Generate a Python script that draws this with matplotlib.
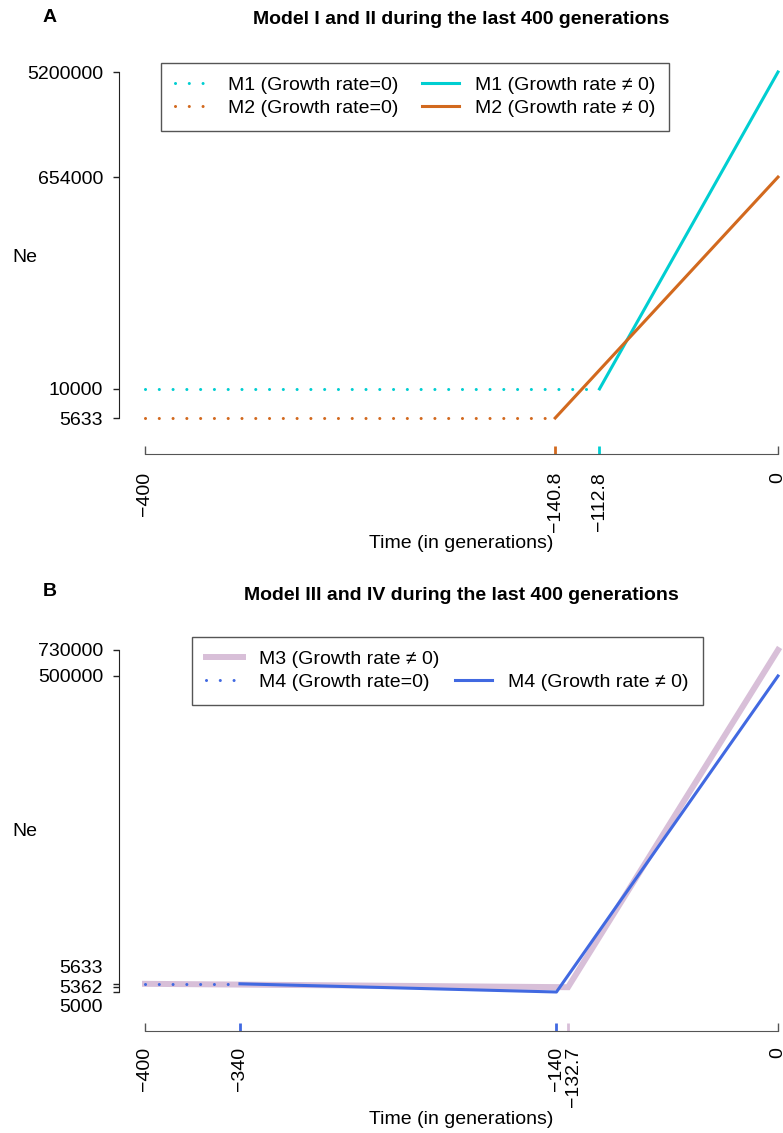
import numpy as np
import matplotlib.pyplot as plt
from matplotlib.lines import Line2D

plt.rcParams['font.family'] = ['Liberation Sans', 'DejaVu Sans']
plt.rcParams['font.size'] = 14

W, H = 783, 1133
PT = 72 / 100  # points per pixel at dpi 100


def fx(px):
    return px / W


def fy(py):
    return 1 - py / H


# -------------------------
# DATA
# -------------------------
# panel A : Model I and II
a_m1_flat_x = [-400, -112.8]
a_m1_flat_y = [10000, 10000]
a_m1_grow_x = [-112.8, 0]
a_m1_grow_y = [10000, 5200000]
a_m2_flat_x = [-400, -140.8]
a_m2_flat_y = [5633, 5633]
a_m2_grow_x = [-140.8, 0]
a_m2_grow_y = [5633, 654000]
a_yticks = [5633, 10000, 654000, 5200000]
a_xticks = [-400, -140.8, -112.8, 0]
a_xlabels = ["\u2212400", "\u2212140.8", "\u2212112.8", "0"]

# panel B : Model III and IV
b_m3_x = [-400, -132.7, 0]
b_m3_y = [5633, 5362, 730000]
b_m4_flat_x = [-400, -340]
b_m4_flat_y = [5633, 5633]
b_m4_grow_x = [-340, -140, 0]
b_m4_grow_y = [5633, 5000, 500000]
b_yticks = [5000, 5362, 5633, 500000, 730000]
b_xticks = [-400, -340, -140, -132.7, 0]
b_xlabels = ["\u2212400", "\u2212340", "\u2212140", "", "0"]

CYAN = "#00CED1"
ORANGE = "#D2691E"
THISTLE = "#D8BFD8"
BLUE = "#4169E1"
DOT = (0, (0.01, 4.5))

fig = plt.figure(figsize=(W / 100, H / 100), dpi=100)


def style_axes(ax, ylim, out_bottom):
    ax.set_yscale('log')
    ax.set_xlim(-400, 0)
    ax.set_ylim(*ylim)
    for s in ['top', 'right']:
        ax.spines[s].set_visible(False)
    ax.spines['left'].set_position(('outward', 26.5 * PT))
    ax.spines['bottom'].set_position(('outward', out_bottom * PT))
    ax.spines['left'].set_bounds(*ylim)
    ax.spines['bottom'].set_bounds(-400, 0)
    ax.spines['left'].set_color('#222222')
    ax.spines['bottom'].set_color('#555555')
    ax.patch.set_visible(False)


def legend_at(ax, handles, labels, x, y, colsp=1.2):
    leg = ax.legend(handles, labels, ncol=2, loc='upper left',
                    bbox_to_anchor=(fx(x), fy(y)), bbox_transform=fig.transFigure,
                    fontsize=14, fancybox=False, edgecolor='#555555', framealpha=1,
                    borderpad=0.7, labelspacing=0.26, handlelength=1.9,
                    handletextpad=0.85, columnspacing=colsp, borderaxespad=0)
    leg.get_frame().set_linewidth(1.0)
    return leg


# ==========================================================
# PANEL A
# ==========================================================
axA = fig.add_axes([fx(145), fy(418), (778 - 145) / W, (418 - 72) / H])
style_axes(axA, (5633, 5200000), 36)

l1, = axA.plot(a_m1_flat_x, a_m1_flat_y, color=CYAN, lw=2.2, linestyle=DOT,
               dash_capstyle='round', clip_on=False)
l2, = axA.plot(a_m2_flat_x, a_m2_flat_y, color=ORANGE, lw=2.2, linestyle=DOT,
               dash_capstyle='round', clip_on=False)
l3, = axA.plot(a_m1_grow_x, a_m1_grow_y, color=CYAN, lw=2.2, clip_on=False)
l4, = axA.plot(a_m2_grow_x, a_m2_grow_y, color=ORANGE, lw=2.2, clip_on=False)

axA.set_yticks(a_yticks, [str(v) for v in a_yticks])
axA.minorticks_off()
axA.set_xticks(a_xticks, a_xlabels, rotation=90)
axA.tick_params(axis='x', direction='in', length=8 * PT, width=1, pad=18 * PT,
                color='#555555')
axA.tick_params(axis='y', direction='out', length=6.5 * PT, width=1, pad=9 * PT,
                color='#222222')
ticks = axA.xaxis.get_major_ticks()
for i, c in [(1, ORANGE), (2, CYAN)]:
    ticks[i].tick1line.set_markeredgecolor(c)
    ticks[i].tick1line.set_markeredgewidth(2)

legend_at(axA, [l1, l2, l3, l4],
          ["M1 (Growth rate=0)", "M2 (Growth rate=0)",
           "M1 (Growth rate \u2260 0)", "M2 (Growth rate \u2260 0)"], 161, 63)

fig.text(fx(50), fy(18), "A", weight='bold', ha='center', va='center')
fig.text(fx(461), fy(19), "Model I and II during the last 400 generations",
         weight='bold', ha='center', va='center')
fig.text(fx(12), fy(257), "Ne", ha='left', va='center')
fig.text(fx(461), fy(543), "Time (in generations)", ha='center', va='center')

# ==========================================================
# PANEL B
# ==========================================================
axB = fig.add_axes([fx(145), fy(992), (778 - 145) / W, (992 - 650) / H])
style_axes(axB, (5000, 730000), 39)

m3, = axB.plot(b_m3_x, b_m3_y, color=THISTLE, lw=4.3, clip_on=False,
               solid_joinstyle='miter')
m4d, = axB.plot(b_m4_flat_x, b_m4_flat_y, color=BLUE, lw=2.2, linestyle=DOT,
                dash_capstyle='round', clip_on=False)
m4s, = axB.plot(b_m4_grow_x, b_m4_grow_y, color=BLUE, lw=2.2, clip_on=False)
blank = Line2D([], [], linestyle='none')

axB.set_yticks(b_yticks, ["", "", "", "500000", "730000"])
axB.minorticks_off()
axB.set_xticks(b_xticks, b_xlabels, rotation=90)
axB.tick_params(axis='x', direction='in', length=8 * PT, width=1, pad=16 * PT,
                color='#555555')
axB.tick_params(axis='y', direction='out', length=6.5 * PT, width=1, pad=9 * PT,
                color='#222222')
ticks = axB.xaxis.get_major_ticks()
for i, c in [(1, BLUE), (2, BLUE), (3, THISTLE)]:
    ticks[i].tick1line.set_markeredgecolor(c)
    ticks[i].tick1line.set_markeredgewidth(2)

# crowded low labels, spread apart
for val, dy in [(5633, 15), (5362, -1), (5000, -16)]:
    axB.annotate(str(val), xy=(0, val), xycoords=axB.get_yaxis_transform(),
                 xytext=(-(26.5 + 6.5 + 9) * PT, dy * PT), textcoords='offset points',
                 ha='right', va='center', annotation_clip=False)
axB.annotate("\u2212132.7", xy=(-132.7, 0), xycoords=axB.get_xaxis_transform(),
             xytext=(5 * PT, -(39 + 16) * PT), textcoords='offset points',
             rotation=90, ha='center', va='top', annotation_clip=False)

legend_at(axB, [m3, m4d, blank, m4s],
          ["M3 (Growth rate \u2260 0)", "M4 (Growth rate=0)", "",
           "M4 (Growth rate \u2260 0)"], 192, 637, colsp=0.8)

fig.text(fx(50), fy(592), "B", weight='bold', ha='center', va='center')
fig.text(fx(461), fy(596), "Model III and IV during the last 400 generations",
         weight='bold', ha='center', va='center')
fig.text(fx(12), fy(832), "Ne", ha='left', va='center')
fig.text(fx(461), fy(1120), "Time (in generations)", ha='center', va='center')

fig.savefig("out.png", dpi=100)
